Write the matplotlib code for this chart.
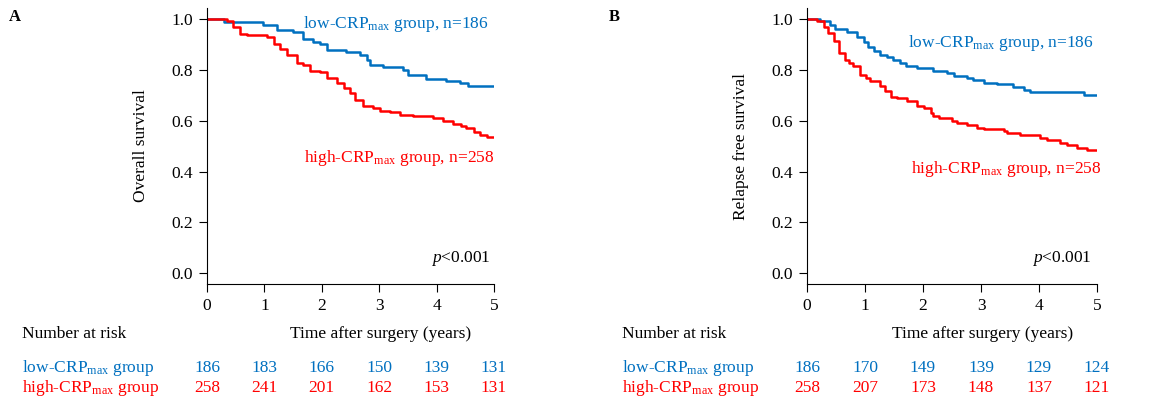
import matplotlib
matplotlib.use("Agg")
import matplotlib.pyplot as plt
from matplotlib.transforms import blended_transform_factory

# Kaplan-Meier step data
# A: overall survival
os_low_t = [0, 0.29, 0.98, 1.22, 1.50, 1.68, 1.85, 1.97, 2.09, 2.43, 2.67, 2.78, 2.84, 3.07, 3.42, 3.50, 3.82, 4.17, 4.40, 4.55, 5.0]
os_low_s = [1.0, 0.987, 0.976, 0.958, 0.948, 0.92, 0.91, 0.90, 0.879, 0.87, 0.86, 0.84, 0.82, 0.81, 0.80, 0.78, 0.765, 0.755, 0.75, 0.737, 0.737]
os_high_t = [0, 0.35, 0.46, 0.58, 0.70, 1.04, 1.16, 1.27, 1.39, 1.56, 1.68, 1.80, 1.97, 2.09, 2.26, 2.38, 2.49, 2.58, 2.72, 2.90, 3.01, 3.19, 3.36, 3.59, 3.94, 4.11, 4.29, 4.43, 4.52, 4.66, 4.75, 4.87, 5.0]
os_high_s = [1.0, 0.99, 0.97, 0.941, 0.935, 0.928, 0.90, 0.88, 0.86, 0.827, 0.82, 0.797, 0.79, 0.768, 0.748, 0.73, 0.709, 0.682, 0.656, 0.65, 0.639, 0.635, 0.622, 0.617, 0.61, 0.597, 0.588, 0.58, 0.571, 0.555, 0.545, 0.534, 0.534]
# B: relapse free survival
rfs_low_t = [0, 0.23, 0.40, 0.49, 0.69, 0.86, 0.98, 1.06, 1.15, 1.26, 1.38, 1.49, 1.61, 1.70, 1.90, 2.18, 2.41, 2.53, 2.76, 2.87, 3.05, 3.28, 3.56, 3.74, 3.85, 4.77, 5.0]
rfs_low_s = [1.0, 0.99, 0.978, 0.962, 0.95, 0.93, 0.91, 0.888, 0.873, 0.86, 0.85, 0.837, 0.827, 0.814, 0.807, 0.797, 0.787, 0.777, 0.768, 0.759, 0.75, 0.743, 0.732, 0.722, 0.713, 0.70, 0.70]
rfs_high_t = [0, 0.17, 0.29, 0.37, 0.46, 0.55, 0.66, 0.72, 0.80, 0.92, 1.01, 1.09, 1.26, 1.35, 1.44, 1.55, 1.72, 1.90, 2.01, 2.13, 2.18, 2.27, 2.50, 2.59, 2.76, 2.93, 3.05, 3.39, 3.45, 3.68, 4.02, 4.14, 4.37, 4.48, 4.66, 4.83, 4.94, 5.0]
rfs_high_s = [1.0, 0.99, 0.97, 0.945, 0.912, 0.866, 0.84, 0.827, 0.814, 0.78, 0.768, 0.755, 0.737, 0.715, 0.695, 0.689, 0.676, 0.659, 0.65, 0.63, 0.619, 0.61, 0.60, 0.59, 0.584, 0.573, 0.567, 0.558, 0.551, 0.545, 0.531, 0.525, 0.514, 0.505, 0.492, 0.483, 0.483, 0.483]

years = [0, 1, 2, 3, 4, 5]
risk_os_low = [186, 183, 166, 150, 139, 131]
risk_os_high = [258, 241, 201, 162, 153, 131]
risk_rfs_low = [186, 170, 149, 139, 129, 124]
risk_rfs_high = [258, 207, 173, 148, 137, 121]

blue = "#0070C0"
red = "#FF0000"

plt.rcParams['font.family'] = ['Liberation Serif', 'DejaVu Serif']
plt.rcParams['mathtext.fontset'] = 'custom'
plt.rcParams['mathtext.rm'] = 'Liberation Serif'
plt.rcParams['mathtext.it'] = 'Liberation Serif:italic'
plt.rcParams['mathtext.bf'] = 'Liberation Serif:bold'
fs = 12.5

W, H = 1157, 403
fig = plt.figure(figsize=(W / 100, H / 100), dpi=100)

low_lab = r"low-$\mathrm{CRP}_{\mathrm{max}}$ group"
high_lab = r"high-$\mathrm{CRP}_{\mathrm{max}}$ group"


def panel(x0, left_px, right_px, letter, ylabel, lt, ls, ht, hs, risk_low, risk_high,
          low_xy, high_xy, p_xy):
    ax = fig.add_axes([left_px / W, 1 - 284 / H, (right_px - left_px) / W, (284 - 8) / H])
    ax.step(lt, ls, where='post', color=blue, lw=1.8)
    ax.step(ht, hs, where='post', color=red, lw=1.8)
    ax.set_xlim(0, 5)
    ax.set_ylim(-0.042, 1.043)
    ax.set_xticks(years)
    ax.set_yticks([0, 0.2, 0.4, 0.6, 0.8, 1.0])
    ax.set_yticklabels(["0.0", "0.2", "0.4", "0.6", "0.8", "1.0"])
    ax.spines['top'].set_visible(False)
    ax.spines['right'].set_visible(False)
    ax.tick_params(labelsize=fs, length=6, width=0.8, pad=4)
    ax.set_ylabel(ylabel, fontsize=fs, labelpad=16)
    ax.text(low_xy[0], low_xy[1], low_lab + ", n=186", color=blue, fontsize=fs,
            ha='right', va='center')
    ax.text(high_xy[0], high_xy[1], high_lab + ", n=258", color=red, fontsize=fs,
            ha='right', va='center')
    ax.text(p_xy[0], p_xy[1], r"$p$<0.001", fontsize=fs, ha='right', va='center')

    # panel letter and risk table
    fig.text((x0 + 9) / W, 1 - 17 / H, letter, fontsize=12, fontweight='bold',
             ha='left', va='center')
    fig.text((x0 + 22) / W, 1 - 334 / H, "Number at risk", fontsize=fs, ha='left', va='center')
    fig.text((x0 + 22) / W, 1 - 368 / H, low_lab, color=blue, fontsize=fs, ha='left', va='center')
    fig.text((x0 + 22) / W, 1 - 388 / H, high_lab, color=red, fontsize=fs, ha='left', va='center')
    tr = blended_transform_factory(ax.transData, fig.transFigure)
    ax.text(3.02, 1 - 334 / H, "Time after surgery (years)", fontsize=fs, transform=tr,
            ha='center', va='center', clip_on=False)
    for yr, a, b in zip(years, risk_low, risk_high):
        ax.text(yr, 1 - 368 / H, str(a), color=blue, fontsize=fs, transform=tr,
                ha='center', va='center', clip_on=False)
        ax.text(yr, 1 - 388 / H, str(b), color=red, fontsize=fs, transform=tr,
                ha='center', va='center', clip_on=False)
    return ax


panel(0, 207, 494, "A", "Overall survival", os_low_t, os_low_s, os_high_t, os_high_s,
      risk_os_low, risk_os_high, (4.9, 0.98), (5.0, 0.454), (4.94, 0.06))
panel(600, 807, 1097, "B", "Relapse free survival", rfs_low_t, rfs_low_s, rfs_high_t, rfs_high_s,
      risk_rfs_low, risk_rfs_high, (4.94, 0.907), (5.07, 0.41), (4.9, 0.06))

fig.savefig("out.png", dpi=100)
